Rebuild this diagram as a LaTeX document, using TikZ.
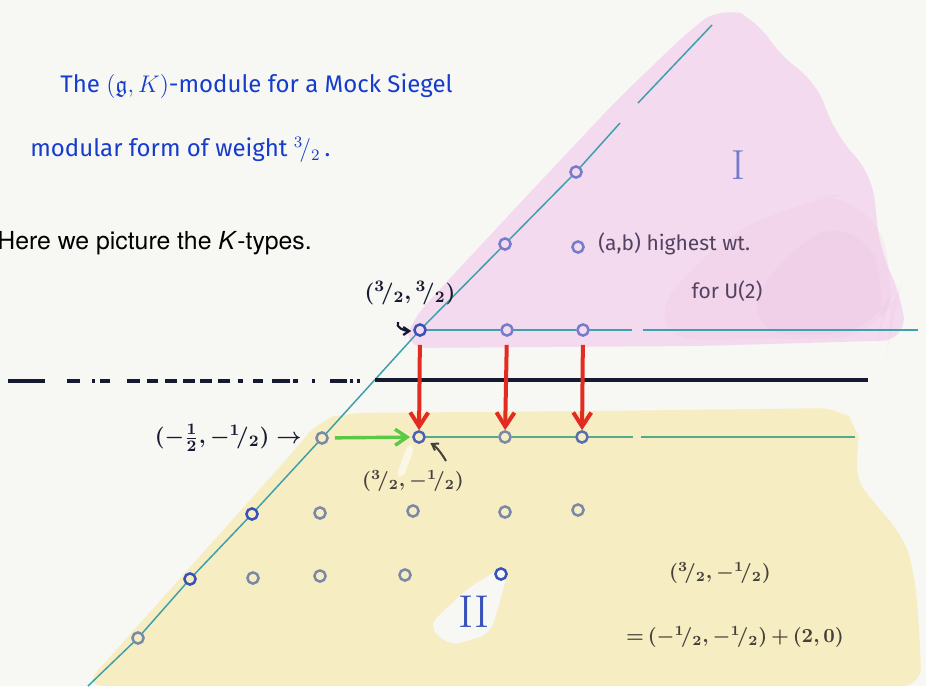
\documentclass[tikz,border=0pt]{standalone}
\usepackage{amsmath}
\usepackage{amssymb}
\usepackage{fontspec}
\usepackage{xcolor}
\usepackage{tikz}
\usetikzlibrary{arrows.meta,calc}
\newfontfamily\handfont{Fira Sans}
\newfontfamily\printfont{TeX Gyre Heros}
\definecolor{kpaper}{RGB}{247,247,244}
\definecolor{kpink}{RGB}{244,218,238}
\definecolor{kpinkdeep}{RGB}{236,190,225}
\definecolor{kyellow}{RGB}{247,237,194}
\definecolor{kteal}{RGB}{62,160,172}
\definecolor{kgreenline}{RGB}{82,172,140}
\definecolor{kgreen}{RGB}{92,200,70}
\definecolor{kred}{RGB}{226,44,34}
\definecolor{kink}{RGB}{22,60,205}
\definecolor{knavy}{RGB}{22,26,48}
\definecolor{kdark}{RGB}{68,64,58}
\definecolor{kplum}{RGB}{82,66,98}
\definecolor{kgray}{RGB}{122,138,166}
\definecolor{kblue}{RGB}{56,82,186}
\definecolor{klilac}{RGB}{118,124,204}
\tikzset{
  kwt/.style={
    circle,
    draw=kgray,
    line width=1.25pt,
    minimum size=5.6pt,
    inner sep=0pt
  },
  kwtblue/.style={kwt, draw=kblue},
  kwtlilac/.style={kwt, draw=klilac},
  khand/.style={font=\handfont\fontsize{12}{14}\selectfont, text=kink, inner sep=0pt},
  klabel/.style={font=\fontsize{11}{13}\selectfont\boldmath, text=knavy, inner sep=0pt},
  kgraylabel/.style={klabel, font=\fontsize{10}{12}\selectfont\boldmath, text=kdark},
  knote/.style={font=\handfont\fontsize{10.5}{12}\selectfont, text=kplum, inner sep=0pt},
  kline/.style={line width=0.75pt, draw=kteal},
  kgline/.style={line width=0.75pt, draw=kgreenline},
  kbar/.style={line width=2.2pt, draw=knavy},
  kredarr/.style={-{Straight Barb[length=7pt,width=9pt]}, line width=2pt, draw=kred, shorten <=4pt},
  kgreenarr/.style={-{Straight Barb[length=6pt,width=8pt]}, line width=1.7pt, draw=kgreen, shorten <=3pt, shorten >=1pt},
  kinkarr/.style={-{Straight Barb[length=3pt,width=4pt]}, line width=1.1pt, draw=knavy},
  kgrayarr/.style={-{Straight Barb[length=3pt,width=4pt]}, line width=1pt, draw=kdark, shorten >=3pt}
}
\begin{document}
\begin{tikzpicture}[x=0.5pt,y=-0.5pt]
\fill[kpaper] (0,0) rectangle (926,686);
\useasboundingbox (0,0) rectangle (926,686);

% watercolour washes
\fill[kpink, rounded corners=12pt] (402,348) -- (410,322) -- (442,287) -- (523,200) -- (617,100) -- (690,30) -- (722,6) -- (758,20) -- (778,55) -- (815,80) -- (836,135) -- (872,175) -- (880,250) -- (902,298) -- (906,340) -- (700,346) -- cycle;
\fill[kpinkdeep, opacity=0.18, rounded corners=30pt] (700,250) -- (800,200) -- (872,190) -- (898,300) -- (890,338) -- (640,340) -- cycle;
\fill[kpinkdeep, opacity=0.18, rounded corners=25pt] (780,250) -- (860,215) -- (890,300) -- (880,334) -- (740,334) -- cycle;
\fill[kyellow, rounded corners=10pt] (84,686) -- (300,444) -- (318,421) -- (345,413) -- (600,411) -- (840,408) -- (857,424) -- (860,448) -- (853,476) -- (872,500) -- (902,535) -- (913,566) -- (918,610) -- (922,686) -- cycle;
\fill[kpaper, rounded corners=6pt] (428,626) -- (468,588) -- (510,563) -- (500,602) -- (490,634) -- (450,646) -- cycle;
\fill[white, opacity=0.6, rounded corners=3pt] (408,444) -- (415,446) -- (403,478) -- (396,476) -- cycle;

% weights
\node[kwtblue] (up1) at (420,330) {};
\node[kwtlilac] (up2) at (507,330) {};
\node[kwtlilac] (up3) at (583,330) {};
\node[kwtlilac] (ud1) at (505,244) {};
\node[kwtlilac] (ud2) at (576,172) {};
\node[kwt] (lo0) at (322,438) {};
\node[kwt, draw=kblue!70!kgray] (lo1) at (419,437) {};
\node[kwt] (lo2) at (505,437) {};
\node[kwt, draw=kblue!50!kgray] (lo3) at (582,437) {};
\node[kwtblue] (ra1) at (252,514) {};
\node[kwt] (ra2) at (320,513) {};
\node[kwt] (ra3) at (413,511) {};
\node[kwt] (ra4) at (505,512) {};
\node[kwt] (ra5) at (578,510) {};
\node[kwtblue] (rb1) at (190,579) {};
\node[kwt] (rb2) at (253,578) {};
\node[kwt] (rb3) at (320,576) {};
\node[kwt] (rb4) at (405,575) {};
\node[kwtblue] (rb5) at (501,574) {};
\node[kwt] (rc1) at (138,638) {};

% lines
\coordinate (dlow) at (88,686);
\coordinate (dgapa) at (620,123);
\coordinate (dgapb) at (638,103);
\coordinate (dtop) at (712,25);
\draw[kline] (dlow) -- (rc1) -- (rb1) -- (ra1) -- (lo0) -- (up1) -- (ud1) -- (ud2) -- (dgapa);
\draw[kline] (dgapb) -- (dtop);
\draw[kline] (up1) -- (up2) -- (up3) -- (632,330);
\draw[kline] (643,330) -- (918,330);
\draw[kgline] (lo1) -- (lo2) -- (lo3) -- (633,437);
\draw[kgline] (641,437) -- (855,437);
\draw[kbar, dash pattern=on 18.5pt off 11pt on 6.5pt off 6pt on 1.5pt off 2.5pt on 5pt off 8.5pt on 6.5pt off 3.5pt on 5.5pt off 3.5pt on 6pt off 3pt on 6pt off 2.5pt on 6pt off 3pt on 6pt off 4pt on 2.5pt off 5pt on 5pt off 4.5pt on 9pt off 1.5pt on 2.5pt off 7pt on 1.5pt off 7.5pt on 8.5pt off 1.5pt on 1.5pt off 2pt on 1.5pt off 20pt] (8,381) -- (360,381);
\draw[kbar] (375,380) -- (868,380);

% arrows
\draw[kredarr] (up1) -- (lo1);
\draw[kredarr] (up2) -- (lo2);
\draw[kredarr] (up3) -- (lo3);
\draw[kgreenarr] (lo0) -- (lo1);

% texts
\node[khand, anchor=west] (title1) at (60,86) {The $(\mathfrak{g},K)$-module for a Mock Siegel};
\node[khand, anchor=west] (title2) at (30,150) {modular form of weight ${}^3\!/_2$\,.};
\node[anchor=west, inner sep=0pt, font=\printfont\fontsize{12.4}{15}\selectfont] (intro) at (-3,243) {Here we picture the \textit{K}-types.};
\node[text=klilac, font=\fontsize{21}{24}\selectfont] (regI) at (738,165) {I};
\node[text=kblue, font=\fontsize{23}{26}\selectfont] (regII) at (474,612) {II};
\node[kwtlilac] (legpt) at (578,247) {};
\node[knote, anchor=west] (legtxt) at (598,244) {(a,b) highest wt.};
\node[knote] (legfor) at (727,291) {for U(2)};
\node[klabel] (lab33) at (410,293) {$({}^3\!/_2,{}^3\!/_2)$};
\coordinate (hook) at (398,322);
\draw[kinkarr] (hook) to[out=240,in=180] ($(up1.west)+(-2,1)$);
\node[klabel, anchor=east] (labmm) at (302,438) {$(-\tfrac{1}{2},{-}{}^1\!/_2)\rightarrow$};
\node[kgraylabel] (lab31) at (413,481) {$({}^3\!/_2,{-}{}^1\!/_2)$};
\coordinate (poke) at (446,461);
\draw[kgrayarr] (poke) to[bend right=15] (lo1);
\node[kgraylabel] (sum1) at (720,573) {$({}^3\!/_2,{-}{}^1\!/_2)$};
\node[kgraylabel] (sum2) at (735,637) {${=}\,({-}{}^1\!/_2,{-}{}^1\!/_2)\,{+}\,(2,0)$};
\end{tikzpicture}
\end{document}
